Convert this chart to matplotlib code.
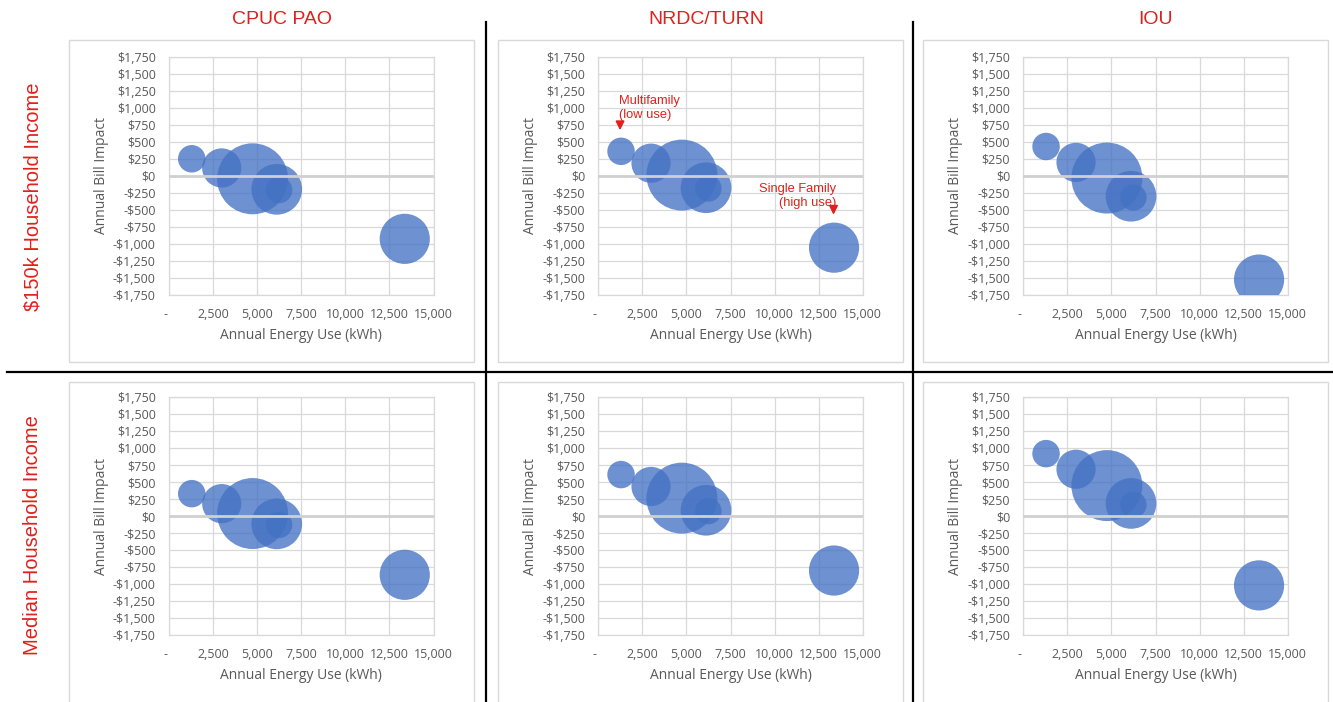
import numpy as np
import matplotlib
matplotlib.use("Agg")
import matplotlib.pyplot as plt
from matplotlib.patches import Rectangle
from matplotlib.lines import Line2D

# customer groups: energy use (kWh) and relative group size, same in every panel
energy_use = [1290, 2990, 4740, 6110, 6240, 13370]
group_size = [15, 30.5, 100, 51, 14, 50]

# annual bill impact ($) per panel
cpuc_150k = [250, 115, -45, -200, -210, -930]
nrdc_150k = [360, 185, 10, -177, -187, -1060]
iou_150k = [431, 197, -34, -302, -320, -1530]
cpuc_median = [330, 183, 37, -115, -130, -866]
nrdc_median = [611, 436, 264, 85, 74, -803]
iou_median = [920, 690, 449, 186, 165, -1022]

col_titles = ["CPUC PAO", "NRDC/TURN", "IOU"]
row_titles = ["$150k Household Income", "Median Household Income"]
panels = [[cpuc_150k, nrdc_150k, iou_150k],
          [cpuc_median, nrdc_median, iou_median]]

x_ticks = [0, 2500, 5000, 7500, 10000, 12500, 15000]
y_ticks = list(range(-1750, 1751, 250))

W, H = 1333, 702
RED = "#E0201B"
BLUE = "#4472C4"
GRAY_TXT = "#595959"
GRID = "#D9D9D9"

plt.rcParams["font.family"] = ["Open Sans", "DejaVu Sans"]

fig = plt.figure(figsize=(W / 100, H / 100), dpi=100)


def fx(px):
    return px / W


def fy(py):
    return 1 - py / H


def money(v):
    s = "${:,.0f}".format(abs(v))
    return "-" + s if v < 0 else s


def kwh(v):
    return "-  " if v == 0 else "{:,.0f}".format(v)


# chart-area boxes
box_left = [69, 498, 923]
box_top = [40, 382]
box_bottom = [362, 705]
for r in range(2):
    for c in range(3):
        fig.patches.append(Rectangle((fx(box_left[c]), fy(box_bottom[r])),
                                     fx(405), fy(box_top[r]) - fy(box_bottom[r]),
                                     transform=fig.transFigure, fill=False,
                                     edgecolor=GRID, lw=1.0))

plot_left = [169, 598.3, 1023.3]
plot_top = [57, 397.3]
plot_w, plot_h = 264.5, 237.5

sizes = np.array(group_size) / max(group_size) * 2610

axes = []
for r in range(2):
    for c in range(3):
        ax = fig.add_axes([fx(plot_left[c]), fy(plot_top[r] + plot_h),
                           fx(plot_w), plot_h / H])
        ax.scatter(energy_use, panels[r][c], s=sizes, color=BLUE, alpha=0.78,
                   edgecolors="none", zorder=3)
        ax.axhline(0, color="#D0D0D0", lw=2.0, zorder=5)
        ax.set_xlim(0, 15000)
        ax.set_ylim(-1750, 1750)
        ax.set_xticks(x_ticks)
        ax.set_yticks(y_ticks)
        ax.set_xticklabels([kwh(v) for v in x_ticks])
        ax.set_yticklabels([money(v) for v in y_ticks])
        ax.grid(True, color=GRID, lw=0.9, zorder=0)
        ax.set_axisbelow(True)
        for sp in ax.spines.values():
            sp.set_color(GRID)
            sp.set_linewidth(0.9)
        ax.tick_params(length=0, labelsize=9, colors=GRAY_TXT, pad=9.5)
        ax.set_xlabel("Annual Energy Use (kWh)", fontsize=10, color=GRAY_TXT,
                      labelpad=5)
        ax.set_ylabel("Annual Bill Impact", fontsize=10, color=GRAY_TXT,
                      labelpad=3)
        axes.append(ax)

# annotations on NRDC/TURN top panel
ax = axes[1]
ax.text(1180, 1000, "Multifamily\n(low use)", color=RED, fontsize=9.3,
        family="Liberation Sans", ha="left", va="center", linespacing=1.15,
        zorder=6)
ax.annotate("", xy=(1233, 630), xytext=(1233, 800),
            arrowprops=dict(arrowstyle="-|>", color=RED, lw=1.2,
                            mutation_scale=13), zorder=6)
ax.text(13500, -300, "Single Family\n(high use)", color=RED, fontsize=9.3,
        family="Liberation Sans", ha="right", va="center",
        multialignment="right", linespacing=1.15, zorder=6)
ax.annotate("", xy=(13340, -615), xytext=(13340, -450),
            arrowprops=dict(arrowstyle="-|>", color=RED, lw=1.2,
                            mutation_scale=13), zorder=6)

# column and row titles
col_x = [282, 706, 1156]
for x, t in zip(col_x, col_titles):
    fig.text(fx(x), fy(20), t, color=RED, fontsize=14, family="Liberation Sans",
             ha="center", va="center")
row_y = [197, 535]
for y, t in zip(row_y, row_titles):
    fig.text(fx(33), fy(y), t, color=RED, fontsize=14.5, family="Liberation Sans",
             rotation=90, ha="center", va="center")

# black divider lines
for x in [486, 913]:
    fig.add_artist(Line2D([fx(x), fx(x)], [fy(22), fy(702)], color="black", lw=1.6,
                          transform=fig.transFigure))
fig.add_artist(Line2D([fx(7), fx(1333)], [fy(372), fy(372)], color="black", lw=1.6,
                      transform=fig.transFigure))

fig.savefig("out.png", dpi=100, facecolor="white")
plt.close(fig)
